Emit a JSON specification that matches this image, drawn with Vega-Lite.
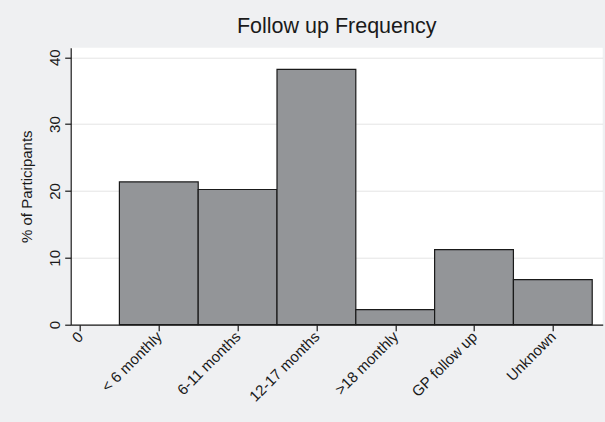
{
  "$schema": "https://vega.github.io/schema/vega-lite/v6.json",
  "autosize": {"type": "none"},
  "width": 532,
  "height": 277,
  "padding": {"left": 70.7, "top": 47.7, "right": 2.3, "bottom": 97.3},
  "background": "#eff0f2",
  "title": {
    "text": "Follow up Frequency",
    "font": "Liberation Sans",
    "fontSize": 21.5,
    "fontWeight": "normal",
    "color": "#1a1a1a",
    "anchor": "middle",
    "offset": 10
  },
  "data": {
    "values": [
      {"code": 1, "category": "< 6 monthly", "pct": 21.35},
      {"code": 2, "category": "6-11 months", "pct": 20.22},
      {"code": 3, "category": "12-17 months", "pct": 38.2},
      {"code": 4, "category": ">18 monthly", "pct": 2.25},
      {"code": 5, "category": "GP follow up", "pct": 11.24},
      {"code": 6, "category": "Unknown", "pct": 6.74}
    ]
  },
  "mark": {"type": "bar", "width": 78.8, "fill": "#939598", "stroke": "#1a1a1a", "strokeWidth": 1.2},
  "encoding": {
    "x": {
      "field": "code",
      "type": "quantitative",
      "scale": {"domain": [-0.118, 6.633], "nice": false, "zero": false, "padding": 0},
      "axis": {
        "title": null,
        "values": [0, 1, 2, 3, 4, 5, 6],
        "labelExpr": "['0','< 6 monthly','6-11 months','12-17 months','>18 monthly','GP follow up','Unknown'][datum.value]",
        "labelAngle": -45,
        "labelAlign": "right",
        "labelBaseline": "middle",
        "labelPadding": 3,
        "grid": false,
        "tickSize": 6
      }
    },
    "y": {
      "field": "pct",
      "type": "quantitative",
      "scale": {"domain": [0, 41.43], "nice": false, "padding": 0},
      "axis": {
        "title": "% of Participants",
        "values": [0, 10, 20, 30, 40],
        "labelAngle": -90,
        "labelAlign": "center",
        "labelBaseline": "bottom",
        "labelPadding": 2,
        "tickSize": 6,
        "grid": true,
        "titleAngle": -90,
        "titleAlign": "center",
        "titleBaseline": "middle",
        "titleX": -44,
        "titleY": 138.5
      }
    }
  },
  "config": {
    "view": {"fill": "white", "stroke": null},
    "axis": {
      "labelFont": "Liberation Sans",
      "labelFontSize": 15,
      "labelColor": "#1a1a1a",
      "titleFont": "Liberation Sans",
      "titleFontSize": 15,
      "titleFontWeight": "normal",
      "titleColor": "#1a1a1a",
      "domainColor": "#1a1a1a",
      "domainWidth": 1.2,
      "tickColor": "#1a1a1a",
      "tickWidth": 1.2,
      "gridColor": "#e4e4e4",
      "gridWidth": 1,
      "labelOverlap": false,
      "labelFlush": false
    }
  }
}
